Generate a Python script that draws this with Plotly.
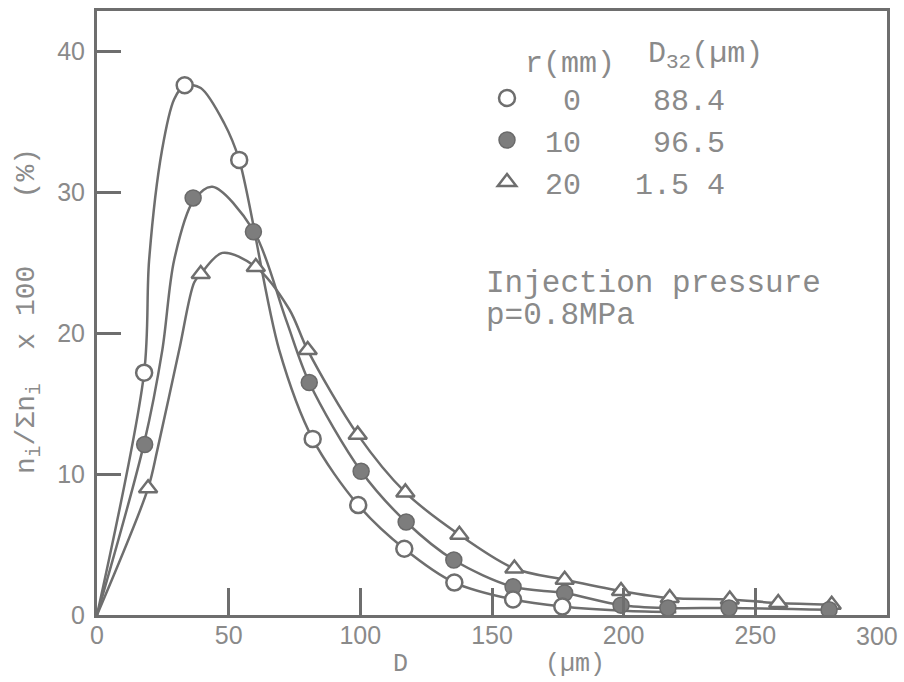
import plotly.graph_objects as go

# ---------------- data ----------------
# marker points (D in um, n_i/sum n_i x 100 in %)
r0_x = [17.9, 33.3, 54.0, 81.9, 99.2, 116.7, 135.7, 158.0, 176.7]
r0_y = [17.2, 37.6, 32.3, 12.5, 7.8, 4.7, 2.3, 1.1, 0.6]

r10_x = [18.1, 36.5, 59.4, 80.6, 100.3, 117.4, 135.5, 158.0, 177.6, 199.0, 216.8, 240.0, 278.0]
r10_y = [12.1, 29.6, 27.2, 16.5, 10.2, 6.6, 3.9, 2.0, 1.56, 0.7, 0.5, 0.5, 0.37]

r20_x = [19.4, 39.4, 60.3, 80.0, 99.0, 117.1, 137.6, 158.5, 177.6, 199.0, 217.5, 240.3, 258.7, 279.0]
r20_y = [9.0, 24.2, 24.7, 18.8, 12.8, 8.7, 5.7, 3.3, 2.5, 1.7, 1.2, 1.1, 0.85, 0.73]

# hand-drawn smooth curves
c0_x = [0, 17.9, 19.8, 24.7, 29.3, 33.3, 39.4, 48.3, 54.0, 69.2, 81.9, 99.2, 116.7, 135.7, 158.0, 176.7, 200.0, 220.0]
c0_y = [0, 17.2, 25.2, 33.0, 36.6, 37.6, 37.4, 34.9, 32.3, 18.8, 12.5, 7.8, 4.7, 2.3, 1.1, 0.6, 0.3, 0.2]

c10_x = [0, 17.9, 24.8, 29.3, 36.6, 43.8, 59.4, 71.7, 80.6, 100.3, 117.4, 135.5, 158.0, 177.6, 199.0, 216.8, 240.0, 278.0]
c10_y = [0, 12.2, 18.8, 25.2, 29.4, 30.4, 27.3, 21.0, 16.5, 10.2, 6.6, 3.9, 2.0, 1.56, 0.7, 0.5, 0.5, 0.37]

c20_x = [0, 19.4, 22.9, 31.2, 36.9, 39.4, 47.6, 60.3, 73.0, 80.0, 99.0, 117.1, 137.6, 158.5, 177.6, 199.0, 217.5, 240.3, 258.7, 279.0]
c20_y = [0, 9.0, 11.7, 18.8, 23.6, 24.2, 25.7, 24.7, 21.7, 18.8, 12.8, 8.7, 5.7, 3.3, 2.5, 1.7, 1.2, 1.1, 0.85, 0.73]

x_ticks = [0, 50, 100, 150, 200, 250, 300]
# the last label ("300") is drawn as an annotation so it stays inside the page
x_ticktext = ["0", "50", "100", "150", "200", "250", ""]
x_last_label = "300"
y_ticks = [0, 10, 20, 30, 40]

legend_names = [
    "\u00a0\u00a00\u00a0\u00a0\u00a0\u00a088.4",
    "\u00a010\u00a0\u00a0\u00a0\u00a096.5",
    "\u00a020\u00a0\u00a0\u00a01.5\u00a04",
]

# ---------------- styling ----------------
INK = "#6e6e6e"
TXT = "#8a8a8a"
MONO = "Liberation Mono"

L, R, T, B = 97, 17, 11, 67
W, H = 904, 682
PW, PH = W - L - R, H - T - B


def px(xp):
    return (xp - L) / PW


def py(yp):
    return (H - B - yp) / PH


fig = go.Figure()

for cx, cy in [(c0_x, c0_y), (c10_x, c10_y), (c20_x, c20_y)]:
    fig.add_trace(go.Scatter(x=cx, y=cy, mode="lines",
                             line=dict(color=INK, width=2.5, shape="spline", smoothing=0.9),
                             showlegend=False, hoverinfo="skip"))

fig.add_trace(go.Scatter(x=r20_x, y=r20_y, mode="markers", name=legend_names[2],
                         marker=dict(symbol="triangle-up", size=16, color="white",
                                     line=dict(color=INK, width=2.5)), legendrank=3))
fig.add_trace(go.Scatter(x=r10_x, y=r10_y, mode="markers", name=legend_names[1],
                         marker=dict(symbol="circle", size=16, color="#7d7d7d",
                                     line=dict(color="#6a6a6a", width=1.5)), legendrank=2))
fig.add_trace(go.Scatter(x=r0_x, y=r0_y, mode="markers", name=legend_names[0],
                         marker=dict(symbol="circle", size=16, color="white",
                                     line=dict(color=INK, width=2.5)), legendrank=1))

ymax = PH / 14.09

fig.update_layout(
    width=W, height=H,
    margin=dict(l=L, r=R, t=T, b=B, autoexpand=False),
    paper_bgcolor="white", plot_bgcolor="white",
    font=dict(family=MONO, color=TXT),
    xaxis=dict(range=[0, 300], tickvals=x_ticks, ticktext=x_ticktext, ticks="inside",
               ticklen=27, tickwidth=2.5, ticklabelstandoff=-4,
               automargin=False,
               tickcolor=INK, showline=True, linecolor=INK, linewidth=3, mirror=True,
               showgrid=False, zeroline=False,
               tickfont=dict(family="Liberation Sans", size=25, color=TXT)),
    yaxis=dict(range=[0, ymax], tickvals=y_ticks, ticks="inside", ticklen=24, tickwidth=2.5,
               automargin=False,
               tickcolor=INK, showline=True, linecolor=INK, linewidth=3, mirror=True,
               showgrid=False, zeroline=False, ticklabelstandoff=4,
               tickfont=dict(family="Liberation Sans", size=25, color=TXT)),
    legend=dict(x=px(487), y=py(33), xanchor="left", yanchor="top",
                bgcolor="rgba(0,0,0,0)", borderwidth=0,
                font=dict(family=MONO, size=30, color=TXT),
                title=dict(text="\u00a0\u00a0r(mm)", font=dict(family=MONO, size=30, color=TXT)),
                traceorder="normal"),
    showlegend=True,
)

ann = [
    dict(text="D<sub>32</sub>(µm)", x=px(646), y=py(55), xanchor="left", yanchor="middle",
         font=dict(family=MONO, size=30, color=TXT)),
    dict(text="Injection pressure", x=px(484), y=py(283), xanchor="left", yanchor="middle",
         font=dict(family=MONO, size=31, color=TXT)),
    dict(text="p=0.8MPa", x=px(484), y=py(315), xanchor="left", yanchor="middle",
         font=dict(family=MONO, size=31, color=TXT)),
    dict(text="D", x=px(400), y=py(664), xanchor="center", yanchor="middle",
         font=dict(family=MONO, size=25, color=TXT)),
    dict(text="(µm)", x=px(575), y=py(664), xanchor="center", yanchor="middle",
         font=dict(family=MONO, size=25, color=TXT)),
    dict(text=x_last_label, x=px(877), y=py(636), xanchor="center", yanchor="middle",
         font=dict(family="Liberation Sans", size=25, color=TXT)),
    dict(text="n<sub>i</sub>/Σn<sub>i</sub>\u00a0\u00a0x\u00a0100\u00a0\u00a0\u00a0\u00a0(%)",
         textangle=-90, x=px(28), y=py(311), xanchor="center", yanchor="middle",
         font=dict(family=MONO, size=28, color=TXT)),
]
for a in ann:
    a.update(xref="paper", yref="paper", showarrow=False)
fig.update_layout(annotations=ann)

fig.write_html("out.html", config={"displayModeBar": False},
               post_script="document.body.style.margin='0';")
